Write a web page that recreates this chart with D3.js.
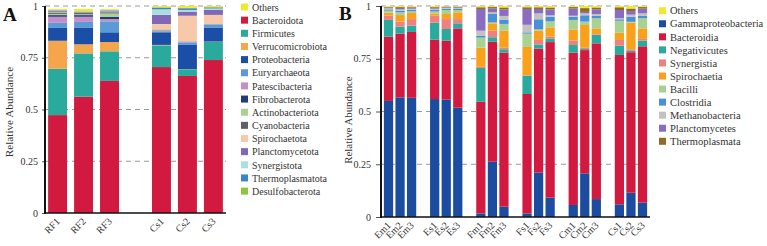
<!DOCTYPE html>
<html>
<head>
<meta charset="utf-8">
<script src="https://cdn.jsdelivr.net/npm/d3@7"></script>
<style>
  body { margin: 0; background: #fff; }
  svg text { font-family: 'Liberation Serif', 'DejaVu Serif', serif !important; }
</style>
</head>
<body>
<svg id="chart" width="767" height="246"></svg>
<script>
'use strict';

// ---- Panel A data (phylum level) ----
const groupsA = [['RF1', 'RF2', 'RF3'], ['Cs1', 'Cs2', 'Cs3']];

// stack order, bottom to top
const taxaA = ['Bacteroidota', 'Firmicutes', 'Verrucomicrobiota', 'Proteobacteria', 'Euryarchaeota',
    'Patescibacteria', 'Fibrobacterota', 'Actinobacteriota', 'Cyanobacteria', 'Spirochaetota',
    'Planctomycetota', 'Synergistota', 'Thermoplasmatota', 'Desulfobacterota', 'Others'];

const colorsA = ['#d2193f', '#2aaa9c', '#f5a54b', '#1b4ea6', '#5b9ad6',
    '#c48ec8', '#1f3b78', '#a8d291', '#606060', '#f7c8a9',
    '#8068b6', '#aadfe0', '#3b86c8', '#8cc63f', '#f3e92c'];

// one row per sample, columns follow taxaA
const valuesA = [
    [0.473, 0.224, 0.135, 0.062, 0.025, 0.029, 0.008, 0.006, 0.007, 0.003, 0.004, 0.002, 0.002, 0.001, 0.005],
    [0.562, 0.209, 0.044, 0.079, 0.029, 0.025, 0.008, 0.004, 0.006, 0.002, 0.003, 0.002, 0.001, 0.001, 0.011],
    [0.638, 0.143, 0.045, 0.047, 0.053, 0.011, 0.010, 0.017, 0.006, 0.003, 0.004, 0.002, 0.002, 0.001, 0.004],
    [0.705, 0.105, 0.002, 0.061, 0.005, 0.002, 0.002, 0.002, 0.002, 0.027, 0.044, 0.027, 0.008, 0.002, 0.006],
    [0.662, 0.032, 0.001, 0.117, 0.012, 0.002, 0.001, 0.001, 0.001, 0.124, 0.020, 0.008, 0.008, 0.002, 0.009],
    [0.739, 0.087, 0.002, 0.066, 0.015, 0.002, 0.001, 0.002, 0.001, 0.042, 0.024, 0.007, 0.005, 0.002, 0.005]
];

// ---- Panel B data (class level) ----
const groupsB = [['Em1', 'Em2', 'Em3'], ['Es1', 'Es2', 'Es3'], ['Fm1', 'Fm2', 'Fm3'],
    ['Fs1', 'Fs2', 'Fs3'], ['Cm1', 'Cm2', 'Cm3'], ['Cs1', 'Cs2', 'Cs3']];

const taxaB = ['Gammaproteobacteria', 'Bacteroidia', 'Negativicutes', 'Synergistia', 'Spirochaetia',
    'Bacilli', 'Clostridia', 'Methanobacteria', 'Planctomycetes', 'Thermoplasmata', 'Others'];

const colorsB = ['#1b4ca0', '#d2193f', '#2aaa9c', '#ee8080', '#f9a11b',
    '#a8d291', '#4a90d6', '#c2c2c2', '#8a6cc0', '#8f6b25', '#f3e92c'];

const valuesB = [
    [0.550, 0.305, 0.079, 0.020, 0.014, 0.010, 0.006, 0.005, 0.004, 0.003, 0.004],
    [0.567, 0.302, 0.033, 0.024, 0.031, 0.013, 0.008, 0.006, 0.007, 0.004, 0.005],
    [0.565, 0.312, 0.030, 0.031, 0.029, 0.008, 0.007, 0.005, 0.006, 0.003, 0.004],
    [0.559, 0.281, 0.081, 0.033, 0.011, 0.009, 0.008, 0.005, 0.005, 0.004, 0.004],
    [0.556, 0.280, 0.055, 0.047, 0.024, 0.019, 0.006, 0.004, 0.003, 0.003, 0.003],
    [0.518, 0.376, 0.024, 0.020, 0.032, 0.011, 0.005, 0.005, 0.003, 0.003, 0.003],
    [0.017, 0.529, 0.160, 0.006, 0.090, 0.048, 0.008, 0.025, 0.103, 0.008, 0.006],
    [0.262, 0.569, 0.021, 0.031, 0.035, 0.004, 0.040, 0.008, 0.019, 0.006, 0.005],
    [0.049, 0.730, 0.016, 0.007, 0.081, 0.032, 0.019, 0.019, 0.031, 0.009, 0.007],
    [0.017, 0.566, 0.087, 0.002, 0.134, 0.063, 0.006, 0.036, 0.075, 0.008, 0.006],
    [0.210, 0.588, 0.020, 0.021, 0.044, 0.006, 0.048, 0.028, 0.021, 0.008, 0.006],
    [0.092, 0.737, 0.015, 0.011, 0.044, 0.028, 0.022, 0.007, 0.028, 0.009, 0.007],
    [0.057, 0.722, 0.036, 0.021, 0.053, 0.045, 0.015, 0.005, 0.035, 0.006, 0.005],
    [0.207, 0.584, 0.005, 0.006, 0.108, 0.016, 0.030, 0.009, 0.007, 0.018, 0.010],
    [0.085, 0.738, 0.040, 0.003, 0.028, 0.048, 0.011, 0.009, 0.022, 0.009, 0.007],
    [0.060, 0.708, 0.044, 0.027, 0.034, 0.057, 0.007, 0.005, 0.039, 0.013, 0.006],
    [0.115, 0.666, 0.006, 0.008, 0.126, 0.004, 0.024, 0.010, 0.017, 0.012, 0.012],
    [0.068, 0.741, 0.027, 0.008, 0.050, 0.048, 0.011, 0.012, 0.024, 0.006, 0.005]
];

const yTicks = [0, 0.25, 0.5, 0.75, 1];

(function () {

    const FONT = "'Liberation Serif', 'DejaVu Serif', serif";
    const svg = d3.select('#chart').attr('font-family', FONT);

    drawPanel({
        letter: 'A', letterX: 3, letterY: 21, letterSize: 19,
        groups: groupsA, taxa: taxaA, colors: colorsA, values: valuesA,
        x0: 45, x1: 226, yTop: 6, yBottom: 213,
        padInner: 0.27, padOuter: 0.12,
        tickSize: 3, tickPad: 4,
        titleX: 13, titleY: 112, titleSize: 11.2,
        legendX: 241, legendY: 7, legendStep: 13.15, legendSize: 10
    });

    drawPanel({
        letter: 'B', letterX: 339, letterY: 20, letterSize: 19,
        groups: groupsB, taxa: taxaB, colors: colorsB, values: valuesB,
        x0: 381, x1: 650, yTop: 6, yBottom: 217,
        padInner: 0.2, padOuter: 0.25,
        tickSize: 5, tickPad: 5,
        titleX: 352, titleY: 120, titleSize: 10.8,
        legendX: 659, legendY: 10.7, legendStep: 13.06, legendSize: 10.5
    });

    // Make every label serif
    svg.selectAll('text').style('font-family', FONT);

    /*
     Function :: drawPanel()
     */
    function drawPanel(cfg) {

        const g = svg.append('g');

        // Band domain with an empty slot between groups
        const slots = [];
        cfg.groups.forEach((grp, i) => {
            if (i > 0) slots.push('gap' + i);
            grp.forEach((s) => slots.push(s));
        });
        const samples = cfg.groups.flat();

        // Rows for the stack
        const rows = samples.map((s, i) => {
            const row = {sample: s};
            cfg.taxa.forEach((t, j) => { row[t] = cfg.values[i][j]; });
            return row;
        });

        const series = d3.stack().keys(cfg.taxa)(rows);

        const scX = d3.scaleBand()
            .domain(slots)
            .range([cfg.x0, cfg.x1])
            .paddingInner(cfg.padInner)
            .paddingOuter(cfg.padOuter);

        const scY = d3.scaleLinear()
            .domain([0, 1])
            .range([cfg.yBottom, cfg.yTop]);

        const color = d3.scaleOrdinal().domain(cfg.taxa).range(cfg.colors);

        // Dashed grid
        g.selectAll('.grid')
            .data(yTicks.filter((d) => d > 0))
            .enter()
            .append('line')
            .attr('x1', cfg.x0)
            .attr('x2', cfg.x1)
            .attr('y1', (d) => scY(d))
            .attr('y2', (d) => scY(d))
            .style('stroke', '#9a9a9a')
            .style('stroke-width', 1)
            .style('stroke-dasharray', '5,4');

        // Stacked bars
        g.selectAll('.layer')
            .data(series)
            .enter()
            .append('g')
            .style('fill', (d) => color(d.key))
            .selectAll('rect')
            .data((d) => d)
            .enter()
            .append('rect')
            .attr('x', (d) => scX(d.data.sample))
            .attr('width', scX.bandwidth())
            .attr('y', (d) => scY(d[1]))
            .attr('height', (d) => scY(d[0]) - scY(d[1]));

        // Y axis
        const yAxis = g.append('g')
            .attr('transform', `translate(${cfg.x0}, 0)`)
            .call(d3.axisLeft(scY)
                .tickValues(yTicks)
                .tickFormat((d) => String(d))
                .tickSize(cfg.tickSize)
                .tickPadding(cfg.tickPad));
        yAxis.attr('font-family', null);
        yAxis.select('.domain').remove();
        yAxis.selectAll('.tick line').style('stroke', '#555');
        yAxis.selectAll('.tick text')
            .style('font-size', '10px')
            .style('fill', '#333');

        g.append('line')
            .attr('x1', cfg.x0).attr('x2', cfg.x0)
            .attr('y1', cfg.yTop).attr('y2', cfg.yBottom + 1)
            .style('stroke', '#111')
            .style('stroke-width', 2);

        // X axis line
        g.append('line')
            .attr('x1', cfg.x0 - 1).attr('x2', cfg.x1)
            .attr('y1', cfg.yBottom).attr('y2', cfg.yBottom)
            .style('stroke', '#111')
            .style('stroke-width', 1.5);

        // X labels
        g.selectAll('.xlab')
            .data(samples)
            .enter()
            .append('text')
            .attr('transform', (d) => `translate(${scX(d) + scX.bandwidth() / 2 + 3}, ${cfg.yBottom + 9}) rotate(-45)`)
            .attr('text-anchor', 'end')
            .style('font-size', '10px')
            .style('fill', '#333')
            .text((d) => d);

        // Axis title
        g.append('text')
            .attr('transform', `translate(${cfg.titleX}, ${cfg.titleY}) rotate(-90)`)
            .attr('text-anchor', 'middle')
            .style('font-size', cfg.titleSize + 'px')
            .style('fill', '#333')
            .text('Relative Abundance');

        // Panel letter
        g.append('text')
            .attr('x', cfg.letterX)
            .attr('y', cfg.letterY)
            .style('font-size', cfg.letterSize + 'px')
            .style('font-weight', 'bold')
            .style('fill', '#111')
            .text(cfg.letter);

        // Legend: Others first, then the rest
        const legendKeys = ['Others'].concat(cfg.taxa.filter((t) => t !== 'Others'));
        const legend = g.selectAll('.legend')
            .data(legendKeys)
            .enter()
            .append('g')
            .attr('transform', (d, i) => `translate(${cfg.legendX}, ${cfg.legendY + i * cfg.legendStep})`);

        legend.append('rect')
            .attr('x', 0)
            .attr('y', -3.5)
            .attr('width', 7)
            .attr('height', 7)
            .style('fill', (d) => color(d));

        legend.append('text')
            .attr('x', 11)
            .attr('y', 3.7)
            .style('font-size', cfg.legendSize + 'px')
            .style('fill', '#333')
            .text((d) => d);
    }

})();
</script>
</body>
</html>
